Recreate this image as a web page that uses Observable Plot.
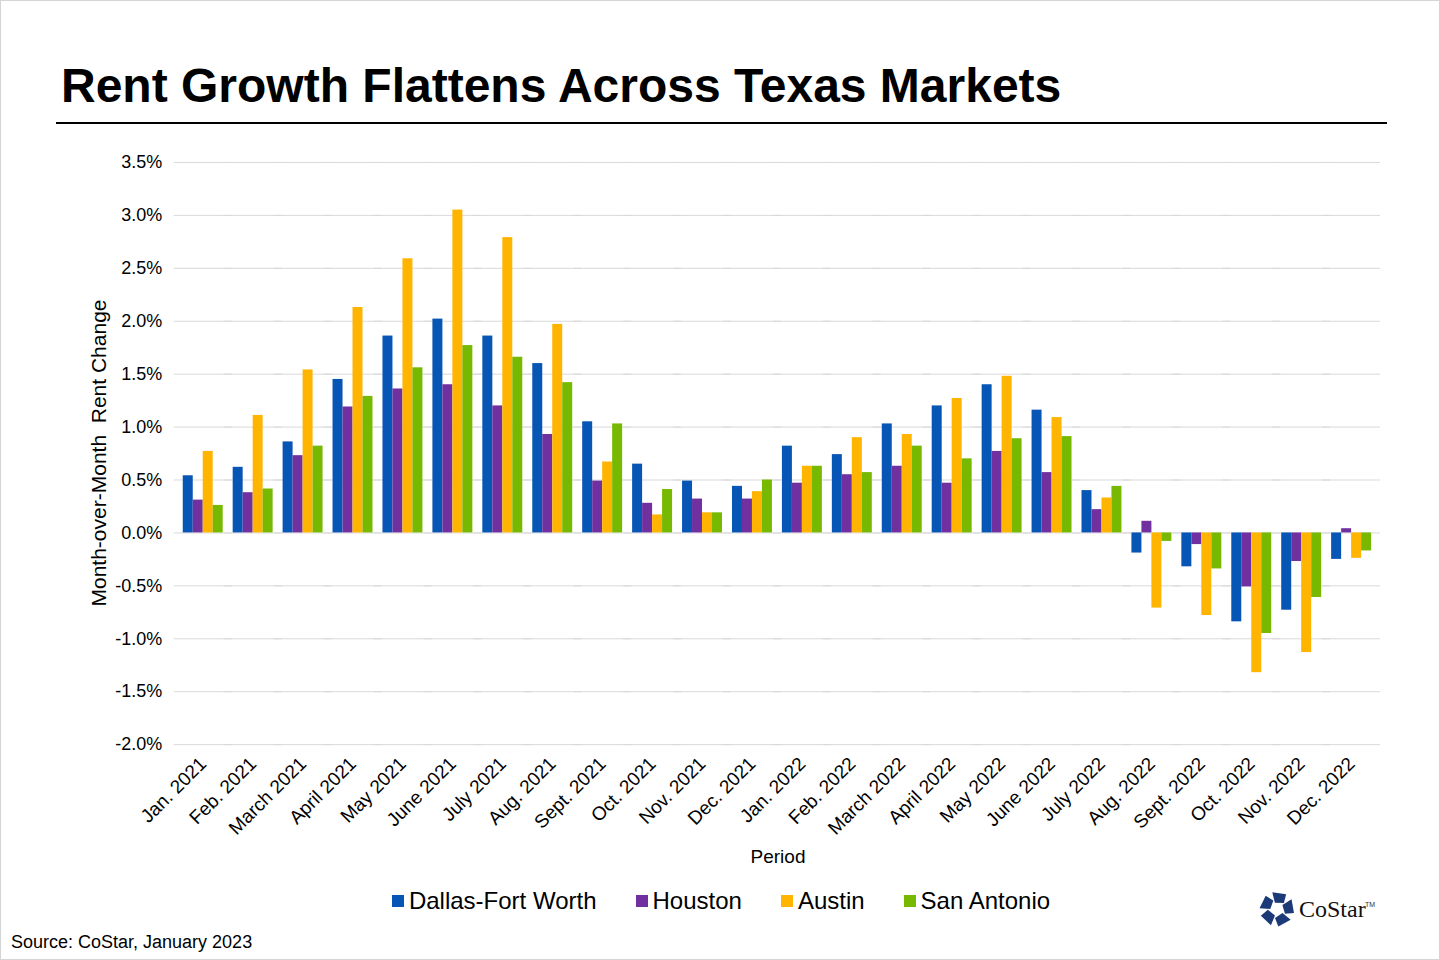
<!DOCTYPE html>
<html>
<head>
<meta charset="utf-8">
<script src="https://cdn.jsdelivr.net/npm/d3@7"></script>
<script src="https://cdn.jsdelivr.net/npm/@observablehq/plot@0.6"></script>
<style>
  html, body { margin: 0; padding: 0; background: #fff; }
  #wrap { position: relative; width: 1440px; height: 960px; box-sizing: border-box; border: 1px solid #d4d4d4; overflow: hidden; font-family: "Liberation Sans", Arial, sans-serif; color: #000; }
  #title { position: absolute; left: 60px; top: 61px; font-size: 48px; line-height: 48px; font-weight: bold; white-space: nowrap; }
  #rule { position: absolute; left: 55px; top: 121px; width: 1331px; height: 2px; background: #000; }
  #chart { position: absolute; left: 0; top: 130px; }
  #ylabel { position: absolute; left: 98px; top: 452px; transform: translate(-50%, -50%) rotate(-90deg); font-size: 21px; white-space: pre; }
  #xlabel { position: absolute; left: 777px; top: 856px; transform: translate(-50%, -50%); font-size: 19px; }
  #legend { position: absolute; left: 0; width: 1440px; top: 885px; display: flex; justify-content: center; gap: 39px; font-size: 24px; line-height: 30px; }
  #legend .item { display: flex; align-items: center; }
  #legend .sw { width: 12px; height: 12px; margin-right: 5px; }
  #source { position: absolute; left: 10px; top: 930px; font-size: 18px; line-height: 22px; }
  #logo { position: absolute; left: 1258px; top: 888px; }
</style>
</head>
<body>
<div id="wrap">
  <div id="title">Rent Growth Flattens Across Texas Markets</div>
  <div id="rule"></div>
  <div id="chart"></div>
  <div id="ylabel">Month-over-Month  Rent Change</div>
  <div id="xlabel">Period</div>
  <div id="legend"></div>
  <div id="source">Source: CoStar, January 2023</div>
  <div id="logo"></div>
</div>
<script>
const months = ["Jan. 2021","Feb. 2021","March 2021","April 2021","May 2021","June 2021","July 2021","Aug. 2021","Sept. 2021","Oct. 2021","Nov. 2021","Dec. 2021",
  "Jan. 2022","Feb. 2022","March 2022","April 2022","May 2022","June 2022","July 2022","Aug. 2022","Sept. 2022","Oct. 2022","Nov. 2022","Dec. 2022"];
const seriesNames = ["Dallas-Fort Worth", "Houston", "Austin", "San Antonio"];
const seriesColors = ["#0755b5", "#7030a0", "#ffb400", "#77b900"];

// Month-over-month rent change, percent
const dallasFortWorth = [0.54, 0.62, 0.86, 1.45, 1.86, 2.02, 1.86, 1.60, 1.05, 0.65, 0.49, 0.44, 0.82, 0.74, 1.03, 1.20, 1.40, 1.16, 0.40, -0.19, -0.32, -0.84, -0.73, -0.25];
const houston         = [0.31, 0.38, 0.73, 1.19, 1.36, 1.40, 1.20, 0.93, 0.49, 0.28, 0.32, 0.32, 0.47, 0.55, 0.63, 0.47, 0.77, 0.57, 0.22, 0.11, -0.11, -0.51, -0.27, 0.04];
const austin          = [0.77, 1.11, 1.54, 2.13, 2.59, 3.05, 2.79, 1.97, 0.67, 0.17, 0.19, 0.39, 0.63, 0.90, 0.93, 1.27, 1.48, 1.09, 0.33, -0.71, -0.78, -1.32, -1.13, -0.24];
const sanAntonio      = [0.26, 0.415, 0.82, 1.29, 1.56, 1.77, 1.66, 1.42, 1.03, 0.41, 0.19, 0.50, 0.63, 0.57, 0.82, 0.70, 0.89, 0.91, 0.44, -0.08, -0.34, -0.95, -0.61, -0.17];

const yTicks = [-2.0, -1.5, -1.0, -0.5, 0.0, 0.5, 1.0, 1.5, 2.0, 2.5, 3.0, 3.5];

const seriesValues = [dallasFortWorth, houston, austin, sanAntonio];
const data = [];
months.forEach((m, i) => {
  seriesNames.forEach((s, j) => data.push({month: m, series: s, value: seriesValues[j][i]}));
});

const chart = Plot.plot({
  width: 1440,
  height: 730,
  marginTop: 31,
  marginBottom: 116,
  marginLeft: 178,
  marginRight: 64,
  style: {fontFamily: "'Liberation Sans', Arial, sans-serif", color: "#000", background: "transparent"},
  fx: {domain: months, padding: 0.16, label: null, axis: null},
  x: {domain: seriesNames, padding: 0, axis: null},
  y: {domain: [-2, 3.5], label: null, axis: null},
  color: {domain: seriesNames, range: seriesColors},
  marks: [
    Plot.ruleY(yTicks, {stroke: "#d9d9d9", strokeWidth: 1, insetLeft: -8, insetRight: -8}),
    Plot.barY(data, {fx: "month", x: "series", y: "value", fill: "series"}),
    Plot.axisY({ticks: yTicks, tickFormat: d => d.toFixed(1) + "%", tickSize: 0, tickPadding: 20, fontSize: 18, label: null}),
    Plot.axisFx({anchor: "bottom", tickRotate: -45, tickSize: 0, tickPadding: 16, fontSize: 19, label: null})
  ]
});
document.getElementById("chart").appendChild(chart);

// legend
const legend = document.getElementById("legend");
seriesNames.forEach((s, i) => {
  const item = document.createElement("div");
  item.className = "item";
  const sw = document.createElement("div");
  sw.className = "sw";
  sw.style.background = seriesColors[i];
  const t = document.createElement("span");
  t.textContent = s;
  item.appendChild(sw); item.appendChild(t);
  legend.appendChild(item);
});

// CoStar logo (decorative)
const logo = document.getElementById("logo");
let petals = "";
for (let k = 0; k < 5; k++) {
  petals += `<g transform="rotate(${k * 72})"><polygon points="-7,-16 7,-16 6,-7 -3,-6" fill="#1d3a78"/></g>`;
}
logo.innerHTML = `<svg width="130" height="40" viewBox="0 0 130 40">
  <g transform="translate(18,20) rotate(8)">${petals}</g>
  <text x="40" y="28" font-family="'Liberation Serif','DejaVu Serif',serif" font-size="24" fill="#111">CoStar</text>
  <text x="106" y="18" font-family="'Liberation Sans',Arial,sans-serif" font-size="7" fill="#333">TM</text>
</svg>`;
</script>
</body>
</html>
